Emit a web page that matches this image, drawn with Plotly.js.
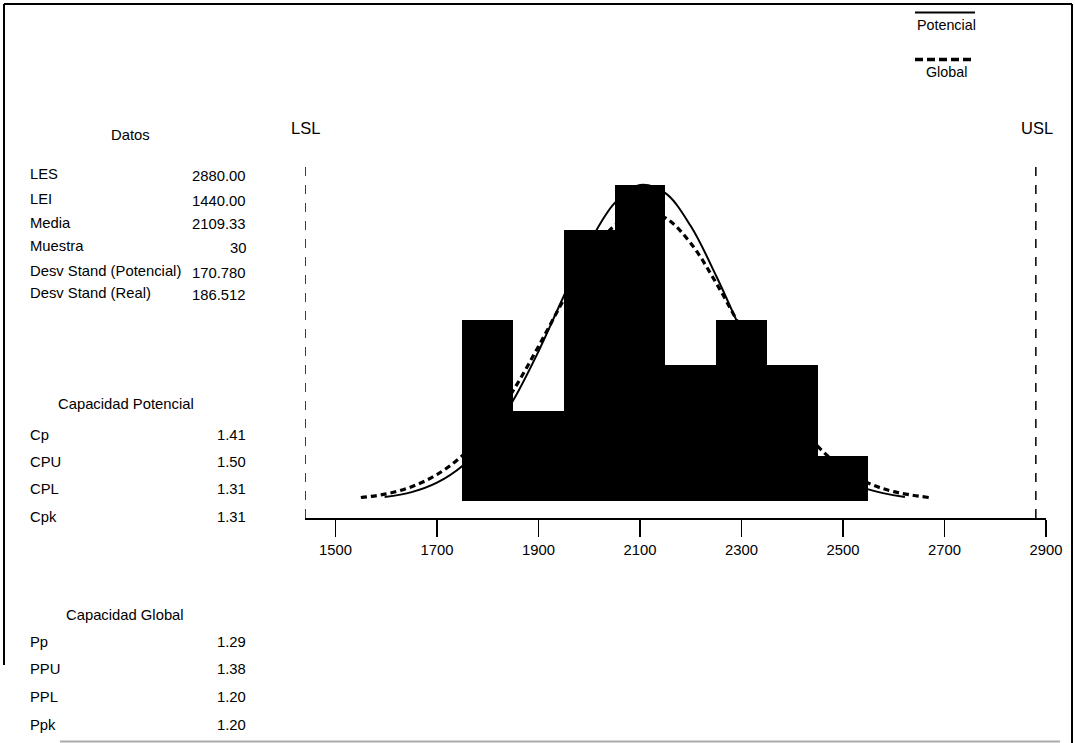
<!DOCTYPE html>
<html>
<head>
<meta charset="utf-8">
<script src="https://cdn.plot.ly/plotly-3.0.1.min.js"></script>
<style>html,body{margin:0;padding:0;background:#fff;}#chart{width:1075px;height:743px;}</style>
</head>
<body>
<div id="chart"></div>
<script>
// ---- Data ----
const binCenters = [1800, 1900, 2000, 2100, 2200, 2300, 2400, 2500];
const binCounts  = [4, 2, 6, 7, 3, 4, 3, 1];
const binWidth = 100;

const LEI = 1440;   // LSL
const LES = 2880;   // USL

// "Potencial" curve (solid)
const potX = [1597,1650,1700,1750,1800,1850,1900,1950,2000,2050,2100,2150,2200,2250,2300,2350,2400,2450,2500,2550,2622];
const potY = [0.08,0.19,0.40,0.77,1.36,2.22,3.31,4.54,5.71,6.60,7.00,6.82,6.09,4.99,3.76,2.60,1.65,0.96,0.51,0.25,0.08];
// "Global" curve (dashed)
const gloX = [1550,1600,1650,1700,1750,1800,1850,1900,1950,2000,2050,2100,2150,2200,2250,2300,2350,2400,2450,2500,2550,2600,2669];
const gloY = [0.07,0.15,0.31,0.58,1.00,1.62,2.44,3.42,4.46,5.41,6.10,6.41,6.27,5.71,4.83,3.81,2.79,1.91,1.21,0.72,0.39,0.20,0.07];

const xTicks = [1500, 1700, 1900, 2100, 2300, 2500, 2700, 2900];

const datosTitle = "Datos";
const datosLabels = ["LES", "LEI", "Media", "Muestra", "Desv Stand (Potencial)", "Desv Stand (Real)"];
const datosValues = ["2880.00", "1440.00", "2109.33", "30", "170.780", "186.512"];

const potTitle = "Capacidad Potencial";
const potLabels = ["Cp", "CPU", "CPL", "Cpk"];
const potValues = ["1.41", "1.50", "1.31", "1.31"];

const gloTitle = "Capacidad Global";
const gloLabels = ["Pp", "PPU", "PPL", "Ppk"];
const gloValues = ["1.29", "1.38", "1.20", "1.20"];

const legendNames = ["Potencial", "Global"];

// ---- Layout helpers (pixel -> paper) ----
const W = 1075, H = 743;
const M = {l: 305, r: 29, t: 158, b: 225};
const PW = W - M.l - M.r, PH = H - M.t - M.b;
const px = v => (v - M.l) / PW;
const py = v => (H - M.b - v) / PH;

const FONT = '"Liberation Sans", Arial, sans-serif';
const FS = 14.8;

const annotations = [];
function txt(text, x, y, anchor, size) {
  annotations.push({text: text, xref: 'paper', yref: 'paper', x: px(x), y: py(y),
    xanchor: anchor, yanchor: 'middle', showarrow: false,
    font: {family: FONT, size: size || FS, color: '#000'}});
}
txt(datosTitle, 130, 135, 'center');
const datosY = [174, 199, 222.5, 246, 271, 293];
datosLabels.forEach((l, i) => { txt(l, 28, datosY[i], 'left'); txt(datosValues[i], 248, datosY[i] + 1.5, 'right'); });
txt(potTitle, 126, 404, 'center');
const potRowY = [435, 462, 489, 517];
potLabels.forEach((l, i) => { txt(l, 28, potRowY[i], 'left'); txt(potValues[i], 248, potRowY[i], 'right'); });
txt(gloTitle, 125, 615, 'center');
const gloRowY = [642, 669, 697, 725];
gloLabels.forEach((l, i) => { txt(l, 28, gloRowY[i], 'left'); txt(gloValues[i], 248, gloRowY[i], 'right'); });
txt("LSL", 305, 128, 'center', 16.5);
txt("USL", 1037, 128, 'center', 16.5);
txt(legendNames[0], 946, 25, 'center', 14.3);
txt(legendNames[1], 946, 72, 'center', 14.3);

const shapes = [
  // spec limit lines
  {type: 'line', xref: 'x', yref: 'paper', x0: LEI, x1: LEI, y0: 0, y1: py(166),
   line: {color: '#000', width: 1.5, dash: '9px,9px'}},
  {type: 'line', xref: 'x', yref: 'paper', x0: LES, x1: LES, y0: 0, y1: py(166),
   line: {color: '#000', width: 1.5, dash: '9px,9px'}},
  // legend lines
  {type: 'line', xref: 'paper', yref: 'paper', x0: px(915), x1: px(975), y0: py(12.5), y1: py(12.5),
   line: {color: '#000', width: 2}},
  {type: 'line', xref: 'paper', yref: 'paper', x0: px(915), x1: px(975), y0: py(59.5), y1: py(59.5),
   line: {color: '#000', width: 3.5, dash: '8px,4px'}},
  // outer frame
  {type: 'line', xref: 'paper', yref: 'paper', x0: px(4), x1: px(1072), y0: py(4), y1: py(4),
   line: {color: '#000', width: 2}},
  {type: 'line', xref: 'paper', yref: 'paper', x0: px(4), x1: px(4), y0: py(4), y1: py(665),
   line: {color: '#000', width: 2}},
  {type: 'line', xref: 'paper', yref: 'paper', x0: px(1072), x1: px(1072), y0: py(4), y1: py(743),
   line: {color: '#000', width: 2}},
  {type: 'line', xref: 'paper', yref: 'paper', x0: px(60), x1: px(1060), y0: py(741.5), y1: py(741.5),
   line: {color: '#aaa', width: 2}}
];

const traces = [
  {type: 'bar', x: binCenters, y: binCounts, width: binWidth,
   marker: {color: '#000', line: {width: 0}}, hoverinfo: 'skip', showlegend: false},
  {type: 'scatter', mode: 'lines', x: gloX, y: gloY, line: {color: '#000', width: 3.2, dash: '6px,4px', shape: 'spline'},
   showlegend: false, hoverinfo: 'skip'},
  {type: 'scatter', mode: 'lines', x: potX, y: potY, line: {color: '#000', width: 2, shape: 'spline'},
   showlegend: false, hoverinfo: 'skip'}
];

const layout = {
  width: W, height: H,
  margin: M,
  paper_bgcolor: '#fff', plot_bgcolor: '#fff',
  showlegend: false,
  bargap: 0,
  font: {family: FONT, size: FS, color: '#000'},
  xaxis: {range: [LEI, 2900], tickvals: xTicks, ticktext: xTicks.map(String),
    ticks: 'outside', ticklen: 17, tickwidth: 1.5, tickcolor: '#000',
    showline: true, linecolor: '#000', linewidth: 2, showgrid: false, zeroline: false,
    tickfont: {family: FONT, size: FS, color: '#000'}},
  yaxis: {range: [-0.384, 7.60], visible: false, showgrid: false, zeroline: false, fixedrange: true},
  shapes: shapes,
  annotations: annotations
};

Plotly.newPlot('chart', traces, layout, {displayModeBar: false, staticPlot: true});
</script>
</body>
</html>
